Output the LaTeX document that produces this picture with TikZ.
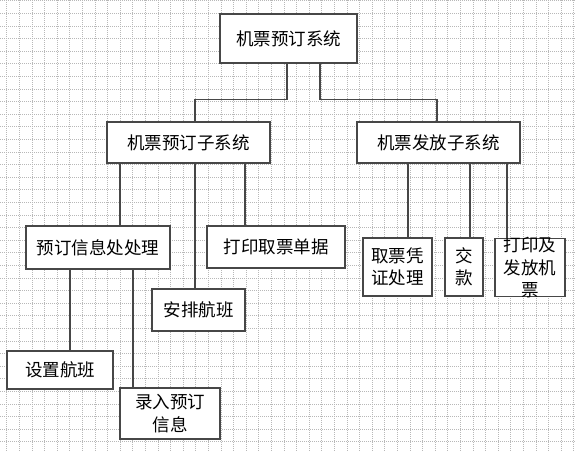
\documentclass[tikz,border=0pt]{standalone}
\usepackage{fontspec}
\newfontfamily\cjk{Noto Sans CJK SC}
\usetikzlibrary{positioning,calc}

\tikzset{
  gridline/.style={black!28, line width=0.6pt, dash pattern=on 1pt off 1pt},
  modbox/.style={draw=black!72, line width=1.4pt, fill=white, inner sep=0pt,
    font=\cjk\fontsize{17.5}{22.5}\selectfont, align=center},
  link/.style={draw=black!72, line width=1.4pt}
}

\begin{document}
\begin{tikzpicture}[x=1pt, y=-1pt]
\useasboundingbox (0,0) rectangle (575,451);
\fill[white] (0,0) rectangle (575,451);
\foreach \i in {0,...,45} \draw[gridline] ({6.7+12.6*\i},0) -- ++(0,451);
\foreach \j in {0,...,35} \draw[gridline] (0,{0.6+12.6*\j}) -- ++(575,0);

\node[modbox, minimum width=137pt, minimum height=49pt] (top) at (288.5,38.5) {机票预订系统};
\node[modbox, minimum width=163pt, minimum height=41pt] (book) at (188.5,142.5) {机票预订子系统};
\node[modbox, minimum width=163pt, minimum height=41pt] (issue) at (438.5,142.5) {机票发放子系统};

\node[modbox, minimum width=144pt, minimum height=43pt] (info) at (98,247.5) {预订信息处处理};
\node[modbox, minimum width=138pt, minimum height=42pt] (slip) at (276,247) {打印取票单据};
\node[modbox, minimum width=93pt, minimum height=42pt] (plan) at (198.5,310) {安排航班};
\node[modbox, minimum width=106pt, minimum height=38pt] (setf) at (60,370) {设置航班};
\node[modbox, minimum width=100pt, minimum height=51pt] (entry) at (170,413.5) {录入预订\\信息};

\node[modbox, minimum width=69pt, minimum height=58pt] (fetch) at (397.5,267) {取票凭\\证处理};
\node[modbox, minimum width=38pt, minimum height=58pt] (pay) at (464,267) {交\\款};
\node[modbox, minimum width=70pt, minimum height=58pt,
  label={[font=\cjk\fontsize{17.5}{22.5}\selectfont, align=center]center:打印及\\发放机\\票}] (give) at (530,267.5) {};

\draw[link] ([xshift=-1.5pt]top.south) |- ($([xshift=6.5pt]book.north)+(0,-22)$) -- ([xshift=6.5pt]book.north);
\draw[link] ([xshift=31.5pt]top.south) |- ($([xshift=-1.5pt]issue.north)+(0,-22)$) -- ([xshift=-1.5pt]issue.north);

\draw[link] ([xshift=22pt]info.north) -- ([xshift=22pt]info.north |- book.south);
\draw[link] ([xshift=-3.5pt]plan.north) -- ([xshift=-3.5pt]plan.north |- book.south);
\draw[link] ([xshift=-31pt]slip.north) -- ([xshift=-31pt]slip.north |- book.south);
\draw[link] ([xshift=10pt]setf.north) -- ([xshift=10pt]setf.north |- info.south);
\draw[link] ([xshift=-37pt]entry.north) -- ([xshift=-37pt]entry.north |- info.south);

\draw[link] ([xshift=10.5pt]fetch.north) -- ([xshift=10.5pt]fetch.north |- issue.south);
\draw[link] ([xshift=6pt]pay.north) -- ([xshift=6pt]pay.north |- issue.south);
\draw[link] ([xshift=-23pt]give.north) -- ([xshift=-23pt]give.north |- issue.south);
\end{tikzpicture}
\end{document}
